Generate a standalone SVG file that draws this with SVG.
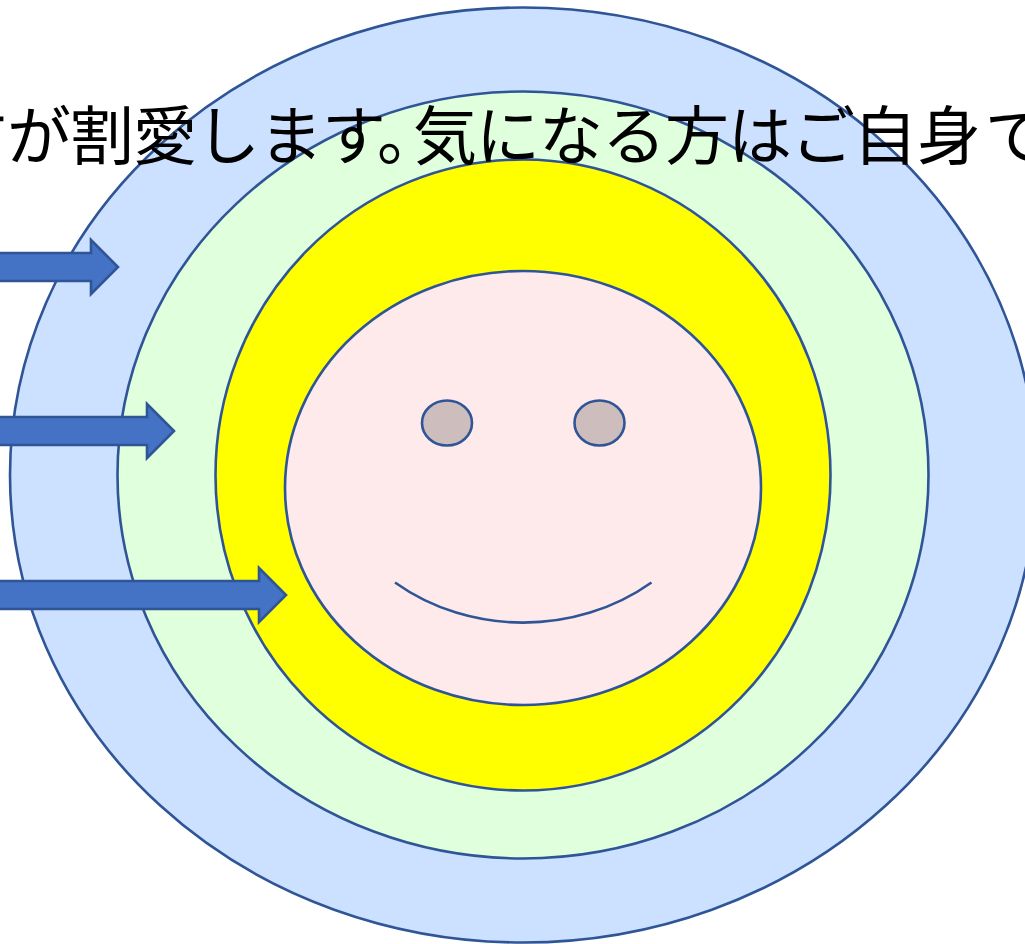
<svg xmlns="http://www.w3.org/2000/svg" width="1025" height="944" viewBox="0 0 1025 944">
<style>
.s{stroke:#2f5597;stroke-width:2.6}
.a{fill:#4472c4;stroke:#2f5597;stroke-width:2.6}
.t{font-family:"Noto Sans CJK JP","Noto Sans CJK SC",sans-serif;font-size:64px;fill:#000}
</style>
<rect width="1025" height="944" fill="#fff"/>
<g id="ring-outer"><ellipse class="s" cx="523" cy="475" rx="513" ry="467.500" fill="#cce0ff"/></g>
<g id="ring-middle"><ellipse class="s" cx="523" cy="475" rx="405.500" ry="383.500" fill="#e0ffdc"/></g>
<g id="ring-inner"><ellipse class="s" cx="523" cy="475" rx="307.500" ry="315.500" fill="#ffff00"/></g>
<g id="face">
<ellipse class="s" cx="523" cy="488" rx="238" ry="217" fill="#ffeaeb"/>
<ellipse class="s" cx="447" cy="423" rx="25" ry="22.500" fill="#cdbdbd"/>
<ellipse class="s" cx="599.500" cy="423" rx="25" ry="22.500" fill="#cdbdbd"/>
<path class="s" fill="none" d="M395 582.500C470 636 576 636 651.500 582.500"/>
</g>
<g id="caption"><text class="t" y="159" x="-56 7 70 133 196 259 322 377 413 476 539 602 665 728 791 853 917 985">すが割愛します。気になる方はご自身で</text></g>
<g id="connectors">
<path class="a" d="M-5 253H91V240L118 267L91 294V281H-5Z"/>
<path class="a" d="M-5 417H147V404L174 431L147 458V445H-5Z"/>
<path class="a" d="M-5 581H259V568L286 595L259 622V609H-5Z"/>
</g>
</svg>
